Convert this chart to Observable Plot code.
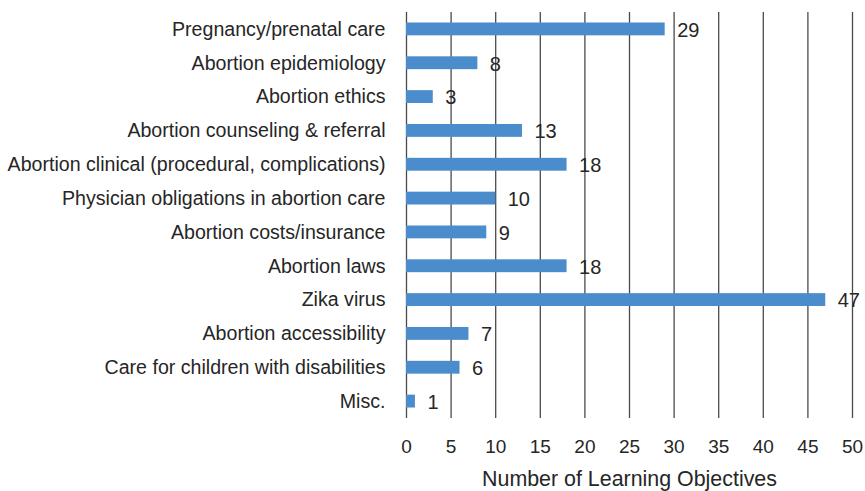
<!DOCTYPE html>
<html>
<head>
<meta charset="utf-8">
<script src="https://cdn.jsdelivr.net/npm/d3@7"></script>
<script src="https://cdn.jsdelivr.net/npm/@observablehq/plot@0.6"></script>
<style>
  html, body { margin: 0; padding: 0; background: #fff; }
  svg { display: block; font-family: "Liberation Sans", Arial, sans-serif; }
</style>
</head>
<body>
<div id="chart"></div>
<script>
const categories = [
  "Pregnancy/prenatal care",
  "Abortion epidemiology",
  "Abortion ethics",
  "Abortion counseling & referral",
  "Abortion clinical (procedural, complications)",
  "Physician obligations in abortion care",
  "Abortion costs/insurance",
  "Abortion laws",
  "Zika virus",
  "Abortion accessibility",
  "Care for children with disabilities",
  "Misc."
];
const values = [29, 8, 3, 13, 18, 10, 9, 18, 47, 7, 6, 1];
const xTicks = [0, 5, 10, 15, 20, 25, 30, 35, 40, 45, 50];
const xLabel = "Number of Learning Objectives";

const data = categories.map((c, i) => ({category: c, value: values[i]}));

const chart = Plot.plot({
  width: 865,
  height: 491,
  marginLeft: 406,
  marginRight: 13,
  marginTop: 12,
  marginBottom: 73,
  style: {fontFamily: "'Liberation Sans', Arial, sans-serif", fontSize: "19px", color: "#262626", background: "#fff"},
  x: {domain: [0, 50]},
  y: {domain: categories, paddingInner: 0.62, paddingOuter: 0.31, round: false},
  marks: [
    Plot.ruleX(xTicks, {stroke: "#4a4a4a", strokeWidth: 1.3}),
    Plot.barX(data, {y: "category", x: "value", fill: "#4a8ccc"}),
    Plot.text(data, {y: "category", x: "value", text: d => String(d.value), textAnchor: "start", dx: 12, dy: 1, fontSize: 20, fill: "#262626"}),
    Plot.axisX({ticks: xTicks, tickSize: 0, tickPadding: 21, fontSize: 19, label: null}),
    Plot.axisX({ticks: [], tickSize: 0, fontSize: 21.4, label: xLabel, labelAnchor: "center", labelArrow: "none", labelOffset: 67}),
    Plot.axisY({tickSize: 0, tickPadding: 21, fontSize: 19.6, label: null})
  ]
});
document.getElementById("chart").appendChild(chart);
</script>
</body>
</html>
